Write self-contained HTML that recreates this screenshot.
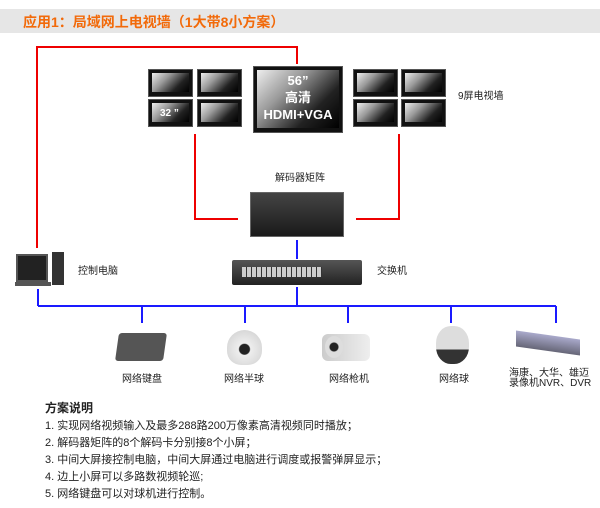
<!DOCTYPE html>
<html><head><meta charset="utf-8"><style>
body{margin:0;width:600px;height:508px;background:#fff;position:relative;overflow:hidden;font-family:"Liberation Sans","Noto Sans CJK SC",sans-serif;}
.a{position:absolute;}
.t{font-size:10px;color:#222;white-space:nowrap;line-height:12px;}
.tv{position:absolute;background:#111;border:1px solid #555;box-sizing:border-box;}
.tv:after{content:"";position:absolute;left:3px;top:3px;right:3px;bottom:4px;background:linear-gradient(135deg,#eee 0%,#999 35%,#222 70%,#000 100%);}
.bt{font-size:11px;color:#222;position:absolute;left:45px;white-space:nowrap;}
</style></head><body>
<div class="a" style="left:0;top:9px;width:600px;height:24px;background:#e6e6e6"></div>
<div class="a" style="left:23px;top:12px;font-size:14px;font-weight:bold;color:#f26a0a;white-space:nowrap">应用1：局域网上电视墙（1大带8小方案）</div>
<svg class="a" style="left:0;top:0" width="600" height="508">
<g stroke="#e00" stroke-width="2" fill="none">
<polyline points="37,248 37,47 297,47 297,64"/>
<polyline points="195,134 195,219 238,219"/>
<polyline points="399,134 399,219 356,219"/>
</g>
<g stroke="#1a1aff" stroke-width="2" fill="none">
<line x1="297" y1="240" x2="297" y2="259"/>
<line x1="297" y1="287" x2="297" y2="306"/>
<line x1="38" y1="289" x2="38" y2="306"/>
<line x1="38" y1="306" x2="556" y2="306"/>
<line x1="142" y1="306" x2="142" y2="323"/>
<line x1="245" y1="306" x2="245" y2="323"/>
<line x1="348" y1="306" x2="348" y2="323"/>
<line x1="451" y1="306" x2="451" y2="323"/>
<line x1="556" y1="306" x2="556" y2="323"/>
</g>
</svg>
<div class="tv" style="left:148px;top:69px;width:45px;height:28px"></div>
<div class="tv" style="left:197px;top:69px;width:45px;height:28px"></div>
<div class="tv" style="left:148px;top:99px;width:45px;height:28px"></div>
<div class="tv" style="left:197px;top:99px;width:45px;height:28px"></div>
<div class="tv" style="left:353px;top:69px;width:45px;height:28px"></div>
<div class="tv" style="left:401px;top:69px;width:45px;height:28px"></div>
<div class="tv" style="left:353px;top:99px;width:45px;height:28px"></div>
<div class="tv" style="left:401px;top:99px;width:45px;height:28px"></div>
<div class="tv" style="left:253px;top:66px;width:90px;height:67px"></div>
<div class="a" style="left:160px;top:108px;color:#fff;font-size:10px;font-weight:bold;z-index:2">32 ”</div>
<div class="a" style="left:253px;top:72px;width:90px;text-align:center;color:#fff;font-size:13px;font-weight:bold;line-height:17px;z-index:2">56”<br>高清<br>HDMI+VGA</div>
<div class="a t" style="left:458px;top:91px">9屏电视墙</div>
<div class="a t" style="left:275px;top:173px">解码器矩阵</div>
<div class="a" style="left:250px;top:192px;width:94px;height:45px;background:linear-gradient(#444,#1a1a1a);border:1px solid #666;box-sizing:border-box"></div>
<div class="a" style="left:232px;top:260px;width:130px;height:25px;background:linear-gradient(#555,#222);border-radius:2px"></div>
<div class="a" style="left:242px;top:267px;width:80px;height:10px;background:repeating-linear-gradient(90deg,#ccc 0 4px,#333 4px 5px)"></div>
<div class="a t" style="left:377px;top:266px">交换机</div>
<div class="a" style="left:16px;top:254px;width:28px;height:24px;background:#222;border:2px solid #555"></div>
<div class="a" style="left:52px;top:252px;width:12px;height:33px;background:#333"></div>
<div class="a" style="left:15px;top:282px;width:36px;height:4px;background:#555"></div>
<div class="a t" style="left:78px;top:266px">控制电脑</div>
<div class="a" style="left:117px;top:333px;width:48px;height:28px;background:#555;border-radius:3px;transform:skewX(-8deg)"></div>
<div class="a" style="left:227px;top:330px;width:35px;height:35px;background:radial-gradient(circle at 50% 55%,#222 0 5px,#eee 6px,#ccc 100%);border-radius:50% 50% 40% 40%"></div>
<div class="a" style="left:322px;top:334px;width:48px;height:27px;background:linear-gradient(90deg,#ccc,#eee);border-radius:6px"></div>
<div class="a" style="left:325px;top:336px;width:18px;height:22px;background:radial-gradient(circle,#222 0 4px,#ddd 5px);border-radius:50%"></div>
<div class="a" style="left:436px;top:326px;width:33px;height:38px;background:linear-gradient(#ddd 62%,#333 62%);border-radius:45%"></div>
<div class="a" style="left:516px;top:335px;width:64px;height:16px;background:linear-gradient(#aac,#667);transform:skewY(8deg)"></div>
<div class="a t" style="left:122px;top:374px">网络键盘</div>
<div class="a t" style="left:224px;top:374px">网络半球</div>
<div class="a t" style="left:329px;top:374px">网络枪机</div>
<div class="a t" style="left:439px;top:374px">网络球</div>
<div class="a t" style="left:509px;top:369px;line-height:10px">海康、大华、雄迈<br>录像机NVR、DVR</div>
<div class="bt" style="top:399px;font-weight:bold;font-size:12px">方案说明</div>
<div class="bt" style="top:417px">1. 实现网络视频输入及最多288路200万像素高清视频同时播放；</div>
<div class="bt" style="top:434px">2. 解码器矩阵的8个解码卡分别接8个小屏；</div>
<div class="bt" style="top:451px">3. 中间大屏接控制电脑，中间大屏通过电脑进行调度或报警弹屏显示；</div>
<div class="bt" style="top:468px">4. 边上小屏可以多路数视频轮巡;</div>
<div class="bt" style="top:485px">5. 网络键盘可以对球机进行控制。</div>
</body></html>
